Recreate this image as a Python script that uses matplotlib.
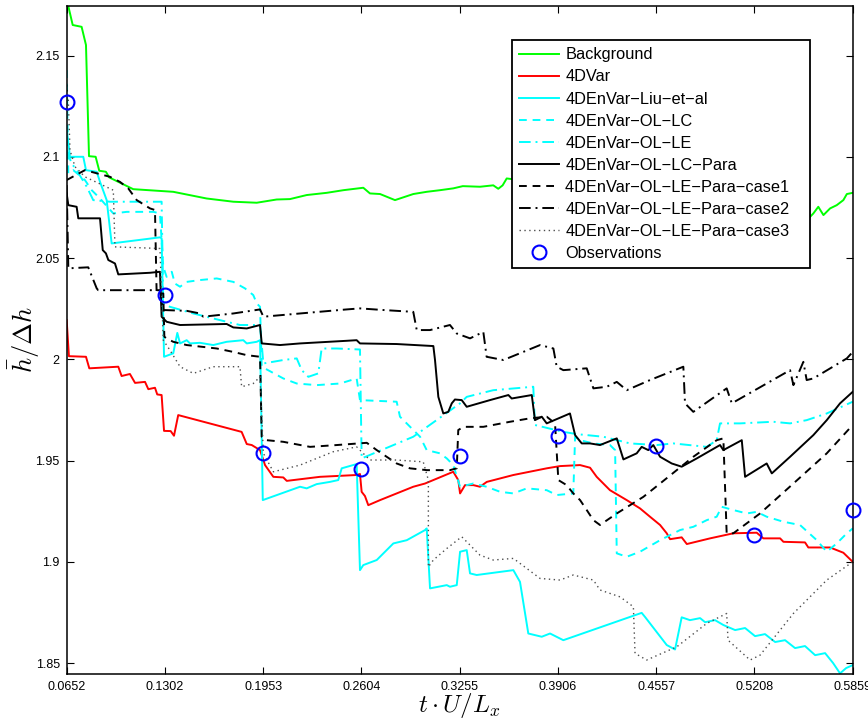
import matplotlib
matplotlib.use('Agg')
import matplotlib.pyplot as plt
import matplotlib as mpl

mpl.rcParams['font.family'] = ['Liberation Sans', 'DejaVu Sans']
mpl.rcParams['mathtext.fontset'] = 'cm'
mpl.rcParams['axes.linewidth'] = 1.1

# observation times / tick positions
obs_t = [0.0652, 0.1302, 0.1953, 0.2604, 0.3255, 0.3906, 0.4557, 0.5208, 0.5859]
obs_h = [2.1271, 2.0318, 1.9537, 1.9458, 1.9522, 1.9621, 1.9572, 1.9132, 1.9256]
xtick_labels = ['0.0652', '0.1302', '0.1953', '0.2604', '0.3255', '0.3906', '0.4557', '0.5208', '0.5859']
yticks = [1.85, 1.9, 1.95, 2.0, 2.05, 2.1, 2.15]
ytick_labels = ['1.85', '1.9', '1.95', '2', '2.05', '2.1', '2.15']

# Background
bg_t = [0.0652, 0.0663, 0.0692, 0.0751, 0.0780, 0.0800, 0.0844, 0.0868, 0.0912, 0.0934,
        0.1093, 0.1358, 0.1579, 0.1756, 0.1911, 0.2043, 0.2131, 0.2242, 0.2375, 0.2485,
        0.2617, 0.2661, 0.2728, 0.2827, 0.2948, 0.3037, 0.3125, 0.3213, 0.3276, 0.3390,
        0.3478, 0.3511, 0.3540, 0.3567, 0.5576, 0.5598, 0.5631, 0.5665, 0.5709, 0.5753,
        0.5797, 0.5820, 0.5859]
bg_h = [2.1765, 2.1745, 2.1652, 2.1643, 2.1553, 2.1004, 2.1001, 2.0932, 2.0927, 2.0899,
        2.0841, 2.0828, 2.0795, 2.0779, 2.0774, 2.0790, 2.0792, 2.0812, 2.0823, 2.0836,
        2.0848, 2.0820, 2.0817, 2.0787, 2.0817, 2.0828, 2.0836, 2.0845, 2.0856, 2.0853,
        2.0860, 2.0843, 2.0860, 2.0894, 2.0704, 2.0721, 2.0754, 2.0713, 2.0746, 2.0762,
        2.0787, 2.0817, 2.0823]

# 4DVar
var_t = [0.0652, 0.0667, 0.0780, 0.0802, 0.0994, 0.1016, 0.1071, 0.1105, 0.1171, 0.1193,
         0.1237, 0.1252, 0.1281, 0.1297, 0.1341, 0.1363, 0.1391, 0.1811, 0.1845, 0.1878,
         0.1933, 0.1966, 0.2021, 0.2087, 0.2110, 0.2330, 0.2573, 0.2595, 0.2606, 0.2628,
         0.2650, 0.2728, 0.2948, 0.3026, 0.3213, 0.3246, 0.3258, 0.3291, 0.3346, 0.3390,
         0.3435, 0.3611, 0.3832, 0.3920, 0.4053, 0.4119, 0.4163, 0.4251, 0.4362, 0.4450,
         0.4516, 0.4583, 0.4627, 0.4649, 0.4726, 0.4760, 0.4914, 0.5068, 0.5223, 0.5267,
         0.5378, 0.5400, 0.5543, 0.5565, 0.5709, 0.5797, 0.5859]
var_h = [2.0194, 2.0016, 2.0013, 1.9956, 1.9964, 1.9918, 1.9928, 1.9884, 1.9889, 1.9853,
         1.9860, 1.9827, 1.9824, 1.9647, 1.9646, 1.9623, 1.9725, 1.9642, 1.9582, 1.9577,
         1.9552, 1.9478, 1.9420, 1.9417, 1.9400, 1.9420, 1.9429, 1.9434, 1.9346, 1.9325,
         1.9280, 1.9305, 1.9371, 1.9387, 1.9445, 1.9404, 1.9338, 1.9379, 1.9379, 1.9371,
         1.9395, 1.9429, 1.9462, 1.9473, 1.9478, 1.9465, 1.9420, 1.9354, 1.9305, 1.9264,
         1.9223, 1.9182, 1.9141, 1.9112, 1.9121, 1.9088, 1.9116, 1.9141, 1.9144, 1.9116,
         1.9116, 1.9099, 1.9096, 1.9071, 1.9071, 1.9045, 1.9000]

# 4DEnVar-Liu-et-al
liu_t = [0.0652, 0.0674, 0.0762, 0.0780, 0.0851, 0.0873, 0.0917, 0.0950, 0.1270, 0.1281,
         0.1297, 0.1358, 0.1385, 0.1403, 0.1447, 0.1469, 0.1535, 0.1623, 0.1712, 0.1822,
         0.1845, 0.1911, 0.1933, 0.1951, 0.2198, 0.2242, 0.2308, 0.2396, 0.2451, 0.2474,
         0.2573, 0.2595, 0.2617, 0.2706, 0.2816, 0.2905, 0.3026, 0.3037, 0.3059, 0.3170,
         0.3191, 0.3236, 0.3258, 0.3302, 0.3324, 0.3368, 0.3611, 0.3655, 0.3710, 0.3799,
         0.3854, 0.3942, 0.4461, 0.4483, 0.4627, 0.4682, 0.4726, 0.4781, 0.4848, 0.4881,
         0.4947, 0.5002, 0.5080, 0.5146, 0.5212, 0.5278, 0.5345, 0.5411, 0.5477, 0.5543,
         0.5610, 0.5676, 0.5729, 0.5775, 0.5815, 0.5859]
liu_h = [2.1141, 2.1001, 2.1001, 2.0935, 2.0927, 2.0877, 2.0787, 2.0573, 2.0603, 2.0598,
         2.0013, 2.0030, 2.0131, 2.0079, 2.0095, 2.0079, 2.0082, 2.0071, 2.0087, 2.0095,
         2.0079, 2.0087, 2.0095, 1.9305, 1.9371, 1.9363, 1.9384, 1.9395, 1.9404, 1.9462,
         1.9483, 1.8959, 1.8984, 1.9009, 1.9091, 1.9107, 1.9157, 1.9165, 1.8869, 1.8885,
         1.8877, 1.8885, 1.9050, 1.9058, 1.8943, 1.8935, 1.8959, 1.8901, 1.8646, 1.8630,
         1.8646, 1.8613, 1.8748, 1.8728, 1.8589, 1.8567, 1.8726, 1.8712, 1.8722, 1.8702,
         1.8712, 1.8688, 1.8663, 1.8673, 1.8633, 1.8643, 1.8604, 1.8613, 1.8574, 1.8584,
         1.8539, 1.8549, 1.8500, 1.8449, 1.8475, 1.8490]

# 4DEnVar-OL-LC
lc_t = [0.0652, 0.0663, 0.0696, 0.0773, 0.0818, 0.0873, 0.0961, 0.1050, 0.1226, 0.1270,
        0.1292, 0.1314, 0.1348, 0.1369, 0.1403, 0.1447, 0.1535, 0.1646, 0.1756, 0.1833,
        0.1888, 0.1911, 0.1933, 0.1944, 0.2087, 0.2176, 0.2308, 0.2463, 0.2573, 0.2595,
        0.2838, 0.2860, 0.2993, 0.3037, 0.3125, 0.3170, 0.3213, 0.3258, 0.3346, 0.3434,
        0.3523, 0.3611, 0.3700, 0.3832, 0.3898, 0.4008, 0.4020, 0.4053, 0.4141, 0.4251,
        0.4285, 0.4296, 0.4362, 0.4450, 0.4583, 0.4715, 0.4803, 0.4892, 0.4958, 0.4991,
        0.5068, 0.5157, 0.5223, 0.5289, 0.5400, 0.5510, 0.5621, 0.5687, 0.5753, 0.5820,
        0.5859]
lc_h = [2.1429, 2.0919, 2.0935, 2.0886, 2.0836, 2.0795, 2.0721, 2.0729, 2.0729, 2.0721,
        2.0458, 2.0408, 2.0433, 2.0375, 2.0359, 2.0383, 2.0392, 2.0400, 2.0383, 2.0351,
        2.0318, 2.0277, 2.0260, 1.9964, 1.9906, 1.9881, 1.9873, 1.9881, 1.9906, 1.9799,
        1.9791, 1.9717, 1.9618, 1.9552, 1.9536, 1.9511, 1.9478, 1.9371, 1.9387, 1.9371,
        1.9346, 1.9338, 1.9363, 1.9354, 1.9330, 1.9338, 1.9618, 1.9601, 1.9585, 1.9577,
        1.9552, 1.9042, 1.9025, 1.9050, 1.9107, 1.9157, 1.9173, 1.9206, 1.9223, 1.9272,
        1.9256, 1.9239, 1.9247, 1.9223, 1.9198, 1.9182, 1.9107, 1.9050, 1.9091, 1.9141,
        1.9165]

# 4DEnVar-OL-LE
le_t = [0.0652, 0.0685, 0.0718, 0.0785, 0.0828, 0.0939, 0.1281, 0.1292, 0.1336, 0.1491,
        0.1668, 0.1800, 0.1933, 0.1955, 0.2087, 0.2176, 0.2209, 0.2253, 0.2319, 0.2341,
        0.2441, 0.2595, 0.2606, 0.2948, 0.3258, 0.3302, 0.3478, 0.3743, 0.3754, 0.3942,
        0.4031, 0.4207, 0.4384, 0.4561, 0.4671, 0.4892, 0.4958, 0.4980, 0.5113, 0.5333,
        0.5444, 0.5554, 0.5687, 0.5859]
le_h = [2.1034, 2.0968, 2.0935, 2.0853, 2.0787, 2.0779, 2.0779, 2.0277, 2.0260, 2.0227,
        2.0194, 2.0170, 2.0170, 1.9980, 1.9997, 2.0005, 1.9947, 1.9914, 1.9931, 2.0054,
        2.0054, 2.0049, 1.9511, 1.9618, 1.9783, 1.9815, 1.9848, 1.9865, 1.9676, 1.9642,
        1.9631, 1.9618, 1.9585, 1.9577, 1.9585, 1.9568, 1.9601, 1.9684, 1.9684, 1.9692,
        1.9684, 1.9700, 1.9733, 1.9791]

# 4DEnVar-OL-LC-Para
lcp_t = [0.0652, 0.0663, 0.0718, 0.0729, 0.0873, 0.0891, 0.0912, 0.0928, 0.0972, 0.0994,
         0.1204, 0.1270, 0.1281, 0.1314, 0.1403, 0.1712, 0.1756, 0.1845, 0.1933, 0.1944,
         0.2065, 0.2198, 0.2507, 0.2573, 0.2595, 0.2838, 0.3081, 0.3092, 0.3114, 0.3147,
         0.3180, 0.3203, 0.3224, 0.3269, 0.3302, 0.3456, 0.3578, 0.3600, 0.3733, 0.3754,
         0.3799, 0.3832, 0.3986, 0.4020, 0.4064, 0.4119, 0.4185, 0.4296, 0.4340, 0.4428,
         0.4461, 0.4505, 0.4538, 0.4583, 0.4660, 0.4726, 0.4826, 0.4980, 0.5002, 0.5124,
         0.5146, 0.5289, 0.5323, 0.5444, 0.5598, 0.5687, 0.5775, 0.5859]
lcp_h = [2.0820, 2.0762, 2.0754, 2.0697, 2.0697, 2.0540, 2.0524, 2.0491, 2.0474, 2.0420,
         2.0428, 2.0433, 2.0211, 2.0186, 2.0170, 2.0175, 2.0158, 2.0153, 2.0170, 2.0079,
         2.0071, 2.0079, 2.0092, 2.0095, 2.0079, 2.0076, 2.0066, 1.9997, 1.9815, 1.9733,
         1.9741, 1.9783, 1.9802, 1.9799, 1.9766, 1.9799, 1.9824, 1.9807, 1.9824, 1.9700,
         1.9717, 1.9684, 1.9733, 1.9626, 1.9585, 1.9585, 1.9577, 1.9610, 1.9506, 1.9536,
         1.9568, 1.9552, 1.9577, 1.9519, 1.9486, 1.9470, 1.9511, 1.9577, 1.9552, 1.9601,
         1.9420, 1.9486, 1.9437, 1.9519, 1.9626, 1.9700, 1.9783, 1.9840]

# 4DEnVar-OL-LE-Para-case1
c1_t = [0.0652, 0.0773, 0.0939, 0.1005, 0.1060, 0.1116, 0.1204, 0.1237, 0.1248, 0.1292,
        0.1299, 0.1314, 0.1358, 0.1447, 0.1646, 0.1756, 0.1845, 0.1933, 0.1944, 0.1977,
        0.2087, 0.2264, 0.2441, 0.2640, 0.2706, 0.2772, 0.2838, 0.2926, 0.3037, 0.3191,
        0.3236, 0.3246, 0.3280, 0.3412, 0.3589, 0.3721, 0.3832, 0.3887, 0.3909, 0.3964,
        0.4008, 0.4053, 0.4097, 0.4141, 0.4185, 0.4296, 0.4472, 0.4583, 0.4803, 0.4958,
        0.5002, 0.5024, 0.5068, 0.5245, 0.5466, 0.5687, 0.5859]
c1_h = [2.0886, 2.0935, 2.0902, 2.0877, 2.0845, 2.0787, 2.0746, 2.0738, 2.0326, 2.0326,
        2.0112, 2.0104, 2.0087, 2.0071, 2.0054, 2.0037, 2.0021, 2.0013, 1.9618, 1.9601,
        1.9593, 1.9568, 1.9577, 1.9588, 1.9552, 1.9519, 1.9486, 1.9462, 1.9453, 1.9453,
        1.9462, 1.9651, 1.9667, 1.9667, 1.9692, 1.9709, 1.9717, 1.9684, 1.9404, 1.9379,
        1.9338, 1.9305, 1.9256, 1.9206, 1.9182, 1.9239, 1.9321, 1.9387, 1.9519, 1.9601,
        1.9610, 1.9141, 1.9141, 1.9239, 1.9387, 1.9536, 1.9676]

# 4DEnVar-OL-LE-Para-case2
c2_t = [0.0652, 0.0663, 0.0795, 0.0851, 0.0861, 0.1270, 0.1292, 0.1447, 0.1535, 0.1557,
        0.1756, 0.1933, 0.1955, 0.2198, 0.2507, 0.2595, 0.2750, 0.2948, 0.2971, 0.3059,
        0.3191, 0.3236, 0.3324, 0.3412, 0.3434, 0.3545, 0.3788, 0.3876, 0.3898, 0.3942,
        0.4097, 0.4141, 0.4230, 0.4296, 0.4362, 0.4516, 0.4737, 0.4748, 0.4803, 0.5024,
        0.5058, 0.5444, 0.5466, 0.5532, 0.5554, 0.5598, 0.5820, 0.5859]
c2_h = [2.0861, 2.0450, 2.0455, 2.0351, 2.0342, 2.0342, 2.0244, 2.0240, 2.0227, 2.0211,
        2.0227, 2.0247, 2.0211, 2.0227, 2.0247, 2.0252, 2.0244, 2.0235, 2.0145, 2.0145,
        2.0170, 2.0128, 2.0104, 2.0136, 2.0013, 1.9997, 2.0071, 2.0054, 1.9964, 1.9947,
        1.9956, 1.9857, 1.9865, 1.9889, 1.9848, 1.9898, 1.9964, 1.9783, 1.9741, 1.9857,
        1.9783, 1.9947, 1.9873, 1.9988, 1.9898, 1.9906, 2.0005, 2.0037]

# 4DEnVar-OL-LE-Para-case3
c3_t = [0.0652, 0.0663, 0.0674, 0.0707, 0.0773, 0.0961, 0.0972, 0.1270, 0.1292, 0.1336,
        0.1403, 0.1491, 0.1623, 0.1800, 0.1811, 0.1888, 0.1933, 0.1955, 0.2021, 0.2198,
        0.2418, 0.2573, 0.2661, 0.2838, 0.3014, 0.3048, 0.3048, 0.3081, 0.3170, 0.3269,
        0.3390, 0.3478, 0.3611, 0.3788, 0.3920, 0.4008, 0.4141, 0.4185, 0.4318, 0.4406,
        0.4417, 0.4494, 0.4693, 0.4892, 0.5024, 0.5033, 0.5179, 0.5245, 0.5466, 0.5687,
        0.5859]
c3_h = [2.1355, 2.1281, 2.1034, 2.0952, 2.0902, 2.0836, 2.0556, 2.0548, 2.0095, 2.0046,
        1.9964, 1.9931, 1.9964, 1.9964, 1.9865, 1.9881, 1.9914, 1.9536, 1.9445, 1.9478,
        1.9544, 1.9568, 1.9503, 1.9503, 1.9494, 1.9404, 1.8975, 1.9009, 1.9066, 1.9124,
        1.9033, 1.9009, 1.9017, 1.8918, 1.8910, 1.8935, 1.8910, 1.8861, 1.8827, 1.8778,
        1.8548, 1.8515, 1.8580, 1.8696, 1.8745, 1.8613, 1.8515, 1.8539, 1.8745, 1.8910,
        1.9000]

fig = plt.figure(figsize=(8.68, 7.2), dpi=100)
ax = fig.add_axes([0.0768, 0.0639, 0.9056, 0.9278])

lw = 1.4
ax.plot(bg_t, bg_h, color=(0, 1, 0), lw=lw, label='Background')
ax.plot(var_t, var_h, color=(1, 0, 0), lw=lw, label='4DVar')
ax.plot(liu_t, liu_h, color=(0, 1, 1), lw=lw, label='4DEnVar\u2212Liu\u2212et\u2212al')
ax.plot(lc_t, lc_h, color=(0, 1, 1), lw=lw, ls=(0, (4, 3)), label='4DEnVar\u2212OL\u2212LC')
ax.plot(le_t, le_h, color=(0, 1, 1), lw=lw, ls=(0, (6, 2.5, 1, 2.5)), label='4DEnVar\u2212OL\u2212LE')
ax.plot(lcp_t, lcp_h, color='k', lw=lw, label='4DEnVar\u2212OL\u2212LC\u2212Para')
ax.plot(c1_t, c1_h, color='k', lw=lw, ls=(0, (4, 3)), label='4DEnVar\u2212OL\u2212LE\u2212Para\u2212case1   ')
ax.plot(c2_t, c2_h, color='k', lw=lw, ls=(0, (6, 2.5, 1, 2.5)), label='4DEnVar\u2212OL\u2212LE\u2212Para\u2212case2')
ax.plot(c3_t, c3_h, color='0.3', lw=1.0, ls=(0, (1, 2.5)), label='4DEnVar\u2212OL\u2212LE\u2212Para\u2212case3')
ax.plot(obs_t, obs_h, ls='none', marker='o', ms=10, mfc='none', mec=(0, 0, 1), mew=1.5,
        label='Observations', clip_on=False, zorder=5)

ax.set_xlim(0.0652, 0.5859)
ax.set_ylim(1.8446, 2.1746)
ax.set_xticks(obs_t)
ax.set_xticklabels(xtick_labels, fontsize=9)
ax.set_yticks(yticks)
ax.set_yticklabels(ytick_labels, fontsize=9)
ax.tick_params(direction='in', length=5, width=0.8, top=True, right=True, pad=5)

ax.set_xlabel(r'$t \cdot U / L_x$', fontsize=18)
ax.xaxis.set_label_coords(0.5, -0.026)
ax.set_ylabel(r'$\bar{h} / \Delta h$', fontsize=19)
ax.yaxis.set_label_coords(-0.031, 0.5)

leg = ax.legend(loc='upper right', bbox_to_anchor=(0.9457, 0.949), borderaxespad=0,
                fontsize=11.8, handlelength=2.4, labelspacing=0.43, frameon=True,
                fancybox=False, framealpha=1, edgecolor='k', borderpad=0.45,
                handletextpad=0.4)
leg.get_frame().set_linewidth(1.3)
leg.set_zorder(10)

fig.savefig('out.png', dpi=100)
